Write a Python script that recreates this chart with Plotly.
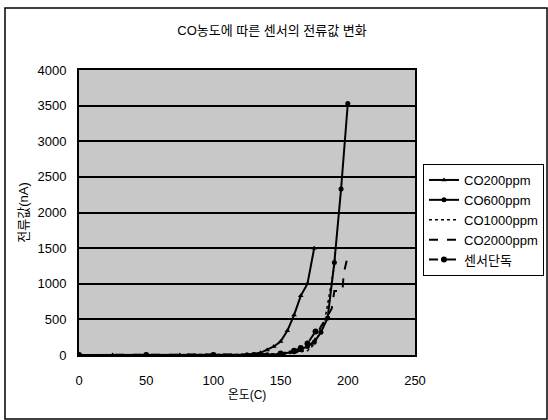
import plotly.graph_objects as go

# Temperature (C) vs. sensor current (nA) for each CO concentration
temp_200 = [0, 25, 50, 75, 100, 125, 135, 140, 145, 150, 155, 160, 165, 170, 175]
cur_200 = [0, 0, 0, 0, 0, 5, 30, 70, 120, 190, 340, 560, 830, 1000, 1500]

temp_600 = [0, 50, 100, 125, 140, 150, 160, 165, 170, 175, 180, 185, 190, 195, 200]
cur_600 = [0, 0, 0, 0, 5, 15, 45, 80, 120, 180, 320, 520, 1300, 2330, 3530]

temp_1000 = [0, 50, 100, 130, 150, 160, 170, 175, 180, 183, 186, 188, 190, 191]
cur_1000 = [0, 0, 0, 0, 10, 30, 60, 150, 330, 500, 800, 1000, 1250, 1500]

temp_2000 = [0, 50, 100, 130, 150, 160, 170, 175, 180, 185, 188, 190, 196, 197, 200]
cur_2000 = [0, 0, 0, 0, 10, 40, 80, 200, 400, 550, 650, 900, 900, 1150, 1390]

temp_alone = [0, 50, 100, 130, 150, 160, 165, 170, 176]
cur_alone = [0, 0, 0, 0, 20, 60, 100, 160, 330]

x_ticks = [0, 50, 100, 150, 200, 250]
y_ticks = [0, 500, 1000, 1500, 2000, 2500, 3000, 3500, 4000]

FONT = "Liberation Sans, Arial, Noto Sans CJK KR, sans-serif"

fig = go.Figure()
fig.add_trace(go.Scatter(x=temp_200, y=cur_200, name="CO200ppm", mode="lines+markers",
                         line=dict(color="black", width=2),
                         marker=dict(symbol="triangle-up", size=5, color="black")))
fig.add_trace(go.Scatter(x=temp_600, y=cur_600, name="CO600ppm", mode="lines+markers",
                         line=dict(color="black", width=2),
                         marker=dict(symbol="circle", size=5, color="black")))
fig.add_trace(go.Scatter(x=temp_1000, y=cur_1000, name="CO1000ppm", mode="lines",
                         line=dict(color="black", width=1.5, dash="dot")))
fig.add_trace(go.Scatter(x=temp_2000, y=cur_2000, name="CO2000ppm", mode="lines",
                         line=dict(color="black", width=2, dash="dash")))
fig.add_trace(go.Scatter(x=temp_alone, y=cur_alone, name="센서단독", mode="lines+markers",
                         line=dict(color="black", width=2, dash="dashdot"),
                         marker=dict(symbol="circle", size=6, color="black")))

L, R, T, B = 79, 415, 70, 355
W, H = 548, 420
pw, ph = R - L, B - T


def px(xp):
    return (xp - L) / pw


def py(yp):
    return (B - yp) / ph


fig.update_layout(
    width=W, height=H,
    margin=dict(l=L, r=W - R, t=T, b=H - B, autoexpand=False),
    paper_bgcolor="white",
    plot_bgcolor="#c8c8c8",
    font=dict(family=FONT, size=13, color="black"),
    title=dict(text="CO농도에 따른 센서의 전류값 변화", x=272 / W, xref="container",
               y=1 - 30 / H, yref="container", xanchor="center", yanchor="middle",
               font=dict(size=13, family=FONT)),
    showlegend=True,
    legend=dict(x=px(423), y=py(164), xanchor="left", yanchor="top",
                bordercolor="black", borderwidth=1, bgcolor="white",
                font=dict(size=13, family=FONT), tracegroupgap=0,
                itemwidth=30),
    xaxis=dict(range=[0, 250], tickvals=x_ticks, showgrid=False, zeroline=False,
               showline=True, linecolor="black", linewidth=2, mirror=True,
               ticks="", tickfont=dict(size=13), ticklabelstandoff=12,
               title=dict(text="온도(C)", font=dict(size=12), standoff=4)),
    yaxis=dict(range=[0, 4000], tickvals=y_ticks, showgrid=True, gridcolor="black",
               gridwidth=2, zeroline=False, showline=True, linecolor="black",
               linewidth=2, mirror=True, ticks="", tickfont=dict(size=13),
               ticklabelstandoff=8,
               title=dict(text="전류값(nA)", font=dict(size=13), standoff=6)),
)

# Outer chart frame
fig.add_shape(type="rect", xref="paper", yref="paper",
              x0=px(5), x1=px(547), y0=py(419), y1=py(8),
              line=dict(color="black", width=1.5), fillcolor="rgba(0,0,0,0)",
              layer="below")

fig.write_html("out.html")
